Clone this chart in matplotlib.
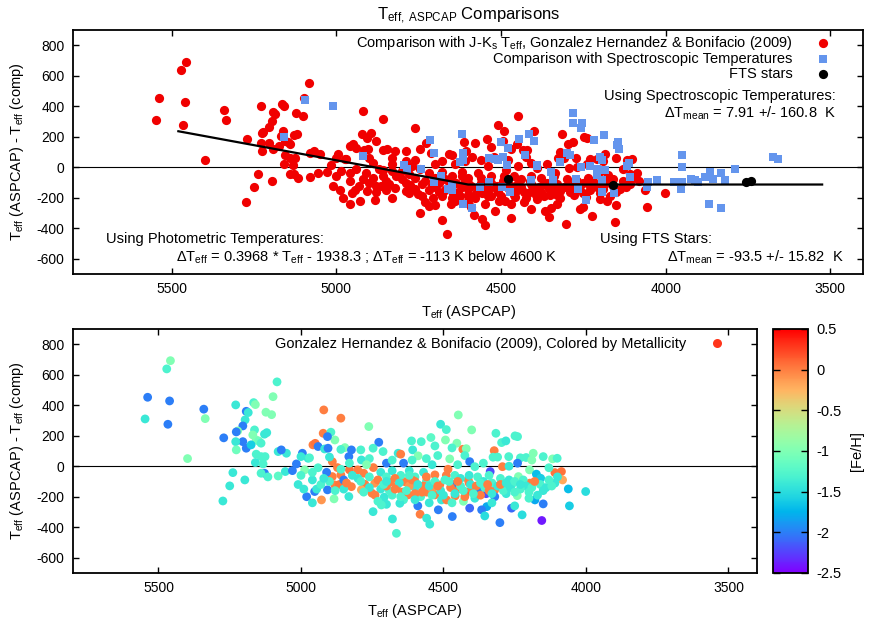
import numpy as np
import matplotlib
matplotlib.use('Agg')
from matplotlib import pyplot as plt
from matplotlib.colors import ListedColormap, Normalize
from matplotlib.lines import Line2D
from matplotlib.ticker import FormatStrFormatter

plt.rcParams['font.family'] = ['Liberation Sans', 'DejaVu Sans']
plt.rcParams['mathtext.fontset'] = 'custom'
plt.rcParams['mathtext.rm'] = 'Liberation Sans'
plt.rcParams['mathtext.it'] = 'Liberation Sans:italic'
plt.rcParams['axes.unicode_minus'] = False
plt.rcParams['font.size'] = 10.5

# Gonzalez Hernandez & Bonifacio (2009) comparison: Teff(ASPCAP), delta Teff, [Fe/H]
gh_teff = [5458, 5471, 5538, 5461, 5547, 5467, 5341, 5336, 5398, 5229,
           5166, 5160, 5084, 5098, 5123, 5103, 5192, 5185, 5196, 5204,
           5222, 5227, 5271, 5163, 5169, 5157, 5148, 5204, 5192, 5229,
           5227, 5128, 5120, 5140, 5175, 5157, 5140, 5126, 5080, 5051,
           5069, 5160, 5133, 5128, 5140, 5239, 5116, 5080, 5055, 5030,
           5197, 5250, 5274, 4987, 5016, 4995, 4975, 4920, 4860, 4762,
           4510, 4922, 4895, 4881, 4907, 4958, 4950, 4940, 4917, 4905,
           4846, 4860, 4823, 4790, 4727, 4747, 4712, 4659, 4650, 4608,
           4612, 4578, 4544, 4530, 4589, 4832, 4788, 4760, 4890, 4900,
           5000, 4970, 4872, 4830, 4801, 4780, 4746, 4890, 4860, 4881,
           4865, 4823, 4776, 4741, 4688, 4665, 4636, 4645, 4624, 4751,
           4788, 4928, 4952, 4945, 4907, 4884, 4832, 4708, 4747, 4679,
           4582, 4559, 4530, 4513, 4530, 4507, 4559, 4518, 4800, 4760,
           4720, 4700, 4680, 4650, 4620, 4600, 4570, 4560, 4720, 4690,
           4600, 4580, 4850, 4910, 4940, 4700, 4680, 4640, 4610, 4560,
           4540, 4520, 4640, 4700, 4550, 4590, 4830, 4860, 4770, 4600,
           4570, 4540, 4700, 4620, 4680, 4448, 4490, 4401, 4316, 4249,
           4240, 4296, 4281, 4493, 4453, 4470, 4478, 4432, 4420, 4425,
           4322, 4326, 4310, 4271, 4230, 4210, 4185, 4190, 4150, 4117,
           4101, 4408, 4390, 4293, 4336, 4340, 4484, 4490, 4413, 4410,
           4454, 4419, 4400, 4459, 4489, 4320, 4288, 4197, 4109, 4086,
           4082, 4237, 4198, 4241, 4174, 4159, 4109, 4062, 4001, 4058,
           4150, 4179, 4170, 4348, 4408, 4366, 4261, 4250, 4224, 4355,
           4469, 4155, 4302, 4460, 4440, 4380, 4360, 4330, 4300, 4270,
           4260, 4220, 4210, 4160, 4140, 4380, 4350, 4320, 4280, 4230,
           4470, 4430, 4390, 4200, 4130, 4450, 4360, 4270, 4240, 4130,
           4820, 4790, 4760, 4730, 4710, 4670, 4655, 4630, 4610, 4590,
           4575, 4550, 4530, 4510, 4495, 4475, 4460, 4440, 4425, 4405,
           4385, 4370, 4355, 4340, 4310, 4290, 4265, 4250, 4900, 4850,
           4930, 4960, 5000, 5010, 4980, 4960, 4665, 4548, 4718, 4653,
           4780, 4740, 4700, 4670, 4650, 4620, 4600, 4560, 4540, 4520,
           4500, 4480, 4450, 4430, 4410, 4395, 4370, 4345, 4330, 4300,
           4280, 4250, 4230, 4190, 4180, 4150, 4120, 4100, 4840, 4880,
           4920, 4960, 4990, 4730, 4600, 4470, 4330, 4200]
gh_dt = [692, 638, 452, 428, 310, 275, 374, 312, 50, 402,
         417, 404, 553, 456, 354, 338, 360, 352, 304, 264,
         231, 225, 186, 238, 205, 172, 165, 161, 118, 161,
         107, 210, 220, 151, 140, 79, 63, 63, 96, 85,
         107, 24, 15, -46, -46, -42, -70, -64, -35, -29,
         -90, -129, -228, -24, 15, 85, 52, 369, 315, 260,
         275, 216, 223, 172, 194, 140, 150, 129, 113, 118,
         122, 110, 107, 107, 157, 118, 96, 85, 79, 107,
         166, 161, 188, 133, 68, 63, 41, 50, 30, 60,
         63, 55, -9, -24, -24, -46, -9, -68, -57, -123,
         -120, -134, -118, -111, -105, -134, -101, -170, -188, -177,
         -155, -221, -166, -150, -155, -214, -199, -203, -298, -346,
         -315, -170, -188, -123, -57, -221, -341, -286, -80, -70,
         -40, -70, -30, -60, -30, -70, -40, -100, -150, -160,
         -140, -200, -90, -40, -10, 20, 40, 20, 40, 50,
         10, 70, -220, -250, -240, -260, 20, -20, 10, -100,
         -130, -150, -130, -130, -190, 336, 240, 238, 216, 199,
         194, 155, 166, 172, 151, 120, 48, 111, 115, 70,
         102, 59, 60, 63, 55, 57, 85, 40, 63, 48,
         52, 30, -3, -3, -35, -60, -20, -60, -90, -110,
         -155, -170, -150, -195, -221, -155, -134, -111, -42, -35,
         -90, -68, -24, -193, -52, -79, -111, -149, -166, -260,
         -247, -221, -190, -265, -275, -286, -275, -260, -319, -326,
         -330, -356, -370, -60, -80, -70, -100, -110, -80, -90,
         -120, -90, -130, -120, -140, -160, -180, -200, -180, -150,
         -120, -230, -210, -170, -90, 10, 20, 0, 20, -10,
         -60, -100, -140, -90, -120, -80, -110, -160, -90, -120,
         -170, -130, -100, -160, -90, -140, -180, -130, -200, -120,
         -130, -190, -140, -160, -130, -160, -140, -100, -100, -150,
         -120, -90, -60, -120, -200, -240, -440, -380, -254, -243,
         -170, -190, -100, -150, -200, -60, -180, -70, -190, -130,
         -190, -100, -100, -160, -60, -180, -110, -120, -180, -120,
         -110, -170, -120, -140, -100, -160, -130, -70, -110, -160,
         -80, -40, -150, -230, -220, -240, -240, -210]
gh_feh = [-1.0, -1.3, -2.0, -2.0, -1.4, -2.0, -2.0, -1.0, -1.0, -1.4,
          -1.3, -1.0, -1.3, -1.0, -1.0, -1.0, -2.0, -1.4, -1.4, -2.0,
          -1.0, -2.0, -2.0, -1.3, -1.0, -1.0, -1.1, -2.0, -2.0, -1.4,
          -1.1, -1.4, -1.4, -1.3, -1.6, -1.3, -1.3, -1.3, -1.4, -1.4,
          -2.0, -1.4, -1.3, -2.0, -1.3, -1.4, -1.3, -1.2, -1.4, -2.0,
          -1.4, -1.4, -1.4, -1.0, -2.0, -2.0, -1.4, 0.0, 0.0, -1.0,
          -1.4, 0.0, -1.3, -1.0, -2.0, 0.0, 0.05, -2.0, -1.4, -2.0,
          -1.0, -1.3, -2.0, -1.3, -2.0, -1.3, -1.3, -1.4, 0.0, -1.4,
          -1.3, -1.3, -1.2, -1.3, -1.0, -2.0, -1.4, -1.3, 0.0, -1.4,
          -1.4, -1.3, 0.0, 0.05, 0.0, 0.0, 0.0, 0.0, 0.0, 0.0,
          0.05, 0.0, 0.0, -0.1, 0.0, 0.0, 0.0, 0.0, 0.0, 0.0,
          -0.2, -0.1, -2.0, -1.4, -2.0, -1.0, -1.4, -1.4, -1.4, -1.4,
          0.0, 0.0, 0.0, 0.0, 0.0, -1.4, -1.4, -2.0, -1.4, -1.3,
          -1.4, -1.3, -1.4, -1.3, -1.4, -1.3, -1.4, -1.3, -1.4, -1.3,
          -1.4, -1.3, -2.0, -2.0, -1.3, -2.0, -1.3, -2.0, -1.3, -1.3,
          -1.4, -1.3, -1.3, -1.4, -1.4, -2.0, -1.3, -1.3, -1.0, 0.0,
          0.0, -0.1, 0.0, -0.1, -1.3, -1.0, -1.3, -1.0, -1.3, -1.3,
          -1.3, -1.3, -1.4, -1.0, -1.0, -1.3, -1.0, 0.0, -1.0, -1.3,
          0.0, -1.3, -1.3, -1.3, -1.3, -1.3, -1.0, -1.0, -1.3, -1.0,
          -1.3, -2.0, -1.3, 0.0, -2.2, -1.3, 0.0, 0.0, 0.0, 0.0,
          0.0, 0.1, 0.0, 0.0, 0.0, 0.0, 0.0, 0.0, 0.05, 0.05,
          -0.2, -1.0, -1.0, -1.0, -1.7, -1.6, -1.4, -1.7, -1.5, -1.6,
          -2.0, -1.8, -1.4, -1.8, -2.1, -2.0, -2.1, -1.4, -1.5, -1.5,
          -2.0, -2.4, -2.0, -1.3, -1.4, -1.3, -1.4, -1.3, -1.3, -1.4,
          -1.3, -1.3, -1.4, -1.3, -1.4, -2.0, -2.2, -2.0, -1.4, -1.3,
          -2.0, -1.0, -1.4, -1.3, -1.3, -1.3, -1.3, -1.4, -2.0, -1.3,
          -1.4, -1.3, -1.4, 0.0, -1.3, 0.0, -1.4, -1.3, 0.0, -1.4,
          0.0, -1.4, -1.3, -1.4, -1.3, 0.0, -1.4, -1.3, 0.0, -1.4,
          0.0, 0.0, -1.3, 0.0, -1.4, -1.3, -1.4, -1.3, -1.3, -1.4,
          -1.3, -1.4, -1.3, -1.4, -2.0, -1.4, -1.3, -1.4, -1.3, -1.4,
          -1.3, 0.0, -1.4, 0.0, -1.3, -1.3, 0.0, 0.0, -1.3, 0.0,
          -1.4, -1.3, 0.0, -1.3, -1.4, -1.3, -1.3, 0.0, -1.4, 0.0,
          -1.4, -1.3, -1.4, -1.3, 0.0, -1.4, -1.3, -1.4, 0.0, -1.3,
          -1.4, -1.3, -1.4, -1.3, -1.4, -1.3, -1.4, -1.3]

# comparison with spectroscopic temperatures
spec_teff = [5160, 5094, 5010, 4919, 4794, 4786, 4743, 4715, 4705, 4705,
             4683, 4660, 4648, 4649, 4624, 4619, 4617, 4617, 4615, 4587,
             4564, 4538, 4538, 4518, 4508, 4500, 4498, 4493, 4483, 4478,
             4473, 4447, 4427, 4415, 4408, 4399, 4392, 4390, 4347, 4342,
             4321, 4301, 4291, 4281, 4281, 4271, 4266, 4256, 4256, 4253,
             4241, 4230, 4218, 4210, 4210, 4200, 4195, 4195, 4192, 4187,
             4185, 4157, 4147, 4144, 4142, 4119, 4107, 4110, 4054, 4056,
             4025, 3976, 3950, 3950, 3951, 3953, 3922, 3912, 3902, 3882,
             3867, 3857, 3833, 3821, 3791, 3869, 3833, 3675, 3660]
spec_dt = [199, 439, 400, 72, 13, -9, -9, 181, 94, -96,
           -57, -140, -125, -151, 35, 216, 94, 46, -238, -267,
           -129, -96, 64, 57, 46, 166, -129, 68, 13, 127,
           -162, 188, 79, 221, -85, 170, 13, 7, -31, -85,
           35, 94, 79, 356, 290, -74, -140, 258, 2, 290,
           -216, 7, 181, -9, -52, 68, 46, -162, -85, 210,
           -20, -168, 144, 166, 122, 7, -64, 25, -96, -129,
           -81, -96, 79, 2, -96, -140, -74, -85, -96, -64,
           -31, -74, -37, -85, -9, -238, -267, 68, 57]

# FTS stars
fts_teff = [4478, 4160, 3757, 3742]
fts_dt = [-75, -115, -98, -87]

# photometric fit: 0.3968*Teff - 1938.3, flat -113 K below 4600 K
fit_teff = [5480, 4600, 3525]
fit_dt = [236, -113, -113]

xtick_vals = [5500, 5000, 4500, 4000, 3500]
ytick_vals = [-600, -400, -200, 0, 200, 400, 600, 800]
cbar_ticks = [0.5, 0, -0.5, -1, -1.5, -2, -2.5]

red = '#f00000'
spec_blue = '#6495ed'

# gnuplot rgbformulae 33,13,10
xs = np.linspace(0, 1, 256)
pal = np.column_stack([np.clip(np.abs(2 * xs - 0.5), 0, 1),
                       np.clip(np.sin(np.pi * xs), 0, 1),
                       np.clip(np.cos(np.pi * xs / 2), 0, 1)])
cmap = ListedColormap(pal)
norm = Normalize(vmin=-2.5, vmax=0.5)

ylab = 'T$_{\\rm eff}$ (ASPCAP) - T$_{\\rm eff}$ (comp)'
xlab = 'T$_{\\rm eff}$ (ASPCAP)'


def style_axes(ax):
    ax.set_xlim(5800, 3400)
    ax.set_ylim(-700, 900)
    ax.set_xticks(xtick_vals)
    ax.set_yticks(ytick_vals)
    ax.tick_params(direction='in', top=True, right=True, length=4.5,
                   width=1, labelsize=10, pad=6)
    for s in ax.spines.values():
        s.set_linewidth(1.3)
    ax.axhline(0, color='black', lw=0.8, zorder=1)
    ax.set_xlabel(xlab, labelpad=5)
    ax.set_ylabel(ylab, labelpad=8)


fig = plt.figure(figsize=(8.9, 6.23), dpi=100)
ax1 = fig.add_axes([0.082, 0.560, 0.888, 0.392])
ax2 = fig.add_axes([0.082, 0.0803, 0.7685, 0.3917])
cax = fig.add_axes([0.8685, 0.0803, 0.0393, 0.3917])

# top panel
style_axes(ax1)
ax1.scatter(gh_teff, gh_dt, s=44, c=red, linewidths=0, zorder=2,
            label='Comparison with J-K$_{\\rm s}$ T$_{\\rm eff}$, Gonzalez Hernandez & Bonifacio (2009)')
ax1.scatter(spec_teff, spec_dt, s=36, c=spec_blue, marker='s', linewidths=0, zorder=3,
            label='Comparison with Spectroscopic Temperatures')
ax1.plot(fit_teff, fit_dt, color='black', lw=1.6, zorder=4)
ax1.scatter(fts_teff, fts_dt, s=44, c='black', linewidths=0, zorder=5, label='FTS stars')
ax1.set_title('T$_{\\rm eff,\\ ASPCAP}$ Comparisons', fontsize=12, pad=7)
ax1.legend(loc='upper right', bbox_to_anchor=(0.962, 0.985), frameon=False,
           markerfirst=False, scatterpoints=1, handlelength=1.4, handletextpad=1.4,
           labelspacing=0.05, borderpad=0, borderaxespad=0, fontsize=10.5)

ax1.text(0.9646, 0.713, 'Using Spectroscopic Temperatures:', transform=ax1.transAxes,
         ha='right', va='baseline')
ax1.text(0.966, 0.639, 'ΔT$_{\\rm mean}$ = 7.91 +/- 160.8  K', transform=ax1.transAxes,
         ha='right', va='baseline')
ax1.text(0.0418, 0.127, 'Using Photometric Temperatures:', transform=ax1.transAxes,
         ha='left', va='baseline')
ax1.text(0.6127, 0.050,
         'ΔT$_{\\rm eff}$ = 0.3968 * T$_{\\rm eff}$ - 1938.3 ; ΔT$_{\\rm eff}$ = -113 K below 4600 K',
         transform=ax1.transAxes, ha='right', va='baseline')
ax1.text(0.667, 0.126, 'Using FTS Stars:', transform=ax1.transAxes,
         ha='left', va='baseline')
ax1.text(0.975, 0.050, 'ΔT$_{\\rm mean}$ = -93.5 +/- 15.82  K', transform=ax1.transAxes,
         ha='right', va='baseline')

# bottom panel
style_axes(ax2)
sc = ax2.scatter(gh_teff, gh_dt, s=40, c=gh_feh, cmap=cmap, norm=norm,
                 linewidths=0, zorder=2)
proxy = Line2D([], [], ls='none', marker='o', ms=6.5, mec='none', color=cmap(norm(0.3)))
ax2.legend([proxy], ['Gonzalez Hernandez & Bonifacio (2009), Colored by Metallicity'],
           loc='upper right', bbox_to_anchor=(0.956, 0.968), frameon=False,
           markerfirst=False, handlelength=1.4, handletextpad=1.4,
           borderpad=0, borderaxespad=0, fontsize=10.5)

cbar = fig.colorbar(sc, cax=cax, ticks=cbar_ticks)
cbar.ax.yaxis.set_major_formatter(FormatStrFormatter('%g'))
cbar.ax.tick_params(direction='in', left=True, right=True, length=5, width=1,
                    labelsize=10.5, pad=6)
cbar.outline.set_linewidth(1.3)
cbar.set_label('[Fe/H]', labelpad=6)

fig.savefig('out.png', dpi=100)
